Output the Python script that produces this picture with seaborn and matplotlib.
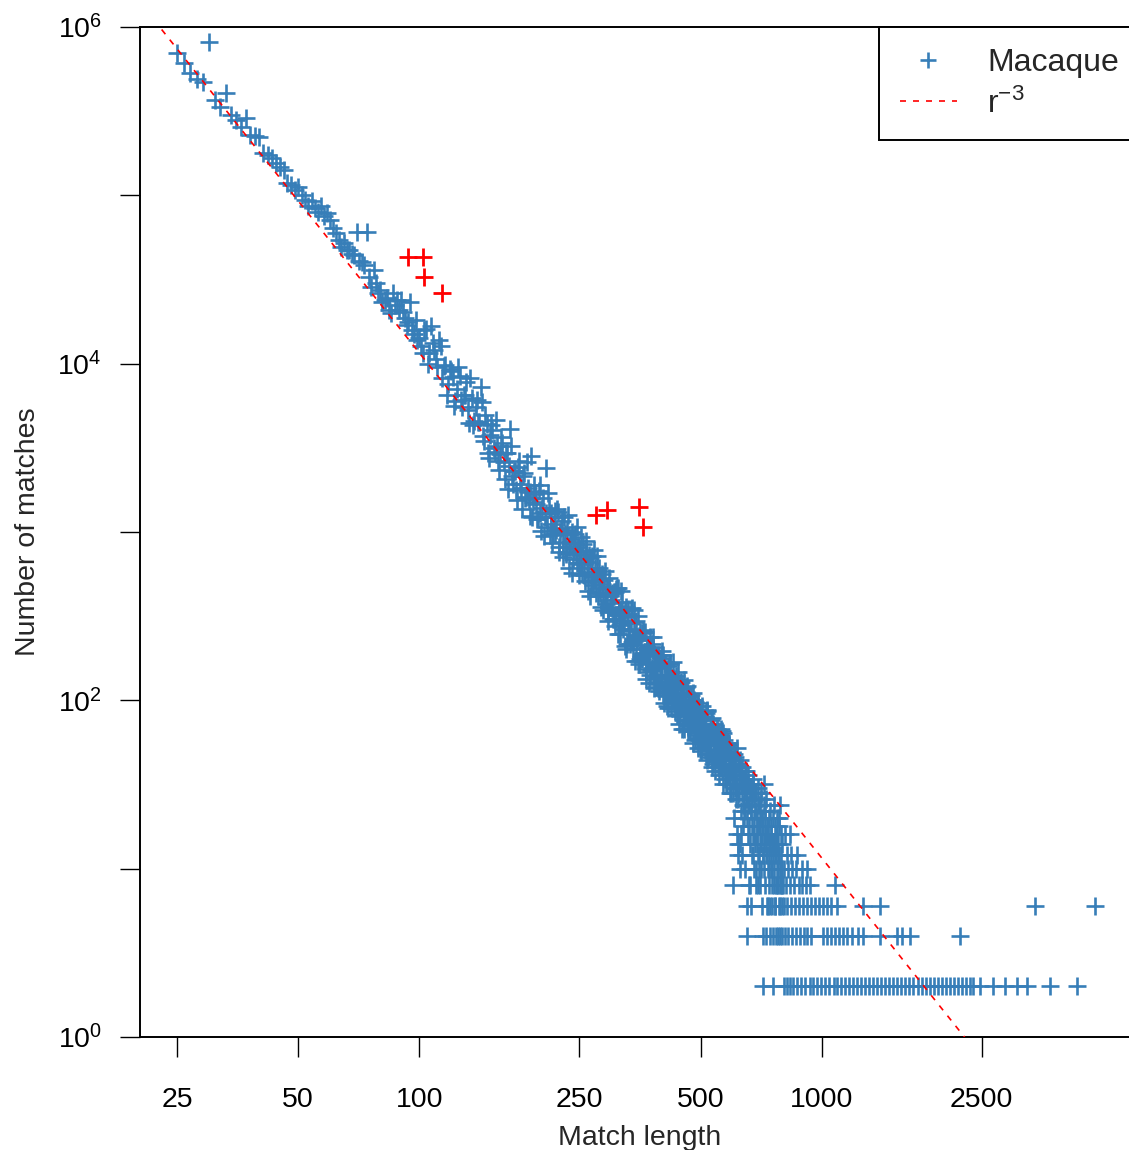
import numpy as np
import pandas as pd
import matplotlib
matplotlib.use("Agg")
import matplotlib.pyplot as plt
from matplotlib.lines import Line2D
from matplotlib.ticker import FixedLocator, NullLocator
import seaborn as sns

sns.set_style("ticks")
plt.rcParams["font.family"] = ["Liberation Sans", "DejaVu Sans"]
plt.rcParams["mathtext.fontset"] = "custom"
plt.rcParams["mathtext.rm"] = "Liberation Sans"
plt.rcParams["mathtext.it"] = "Liberation Sans:italic"
plt.rcParams["mathtext.bf"] = "Liberation Sans:bold"

BLUE = "#377EB8"
RED = "#FF0000"

# --- match-length counts -------------------------------------------------
# lengths 25..99, every length
len_a = list(range(25, 100))
cnt_a = [698000, 608000, 531000, 490000, 473000, 818000, 368000, 336000, 404000, 300000,
         280000, 256000, 287000, 228000, 224000, 223000, 178000, 174000, 166000, 155000,
         147000, 141000, 118000, 115000, 107000, 112000, 100000, 94000, 87000, 93000,
         84000, 80000, 86000, 75000, 78500, 71000, 64000, 59700, 54000, 49500,
         52000, 47300, 47300, 45000, 44000, 60800, 41000, 40000, 38500, 60800,
         32800, 28600, 36000, 30000, 26300, 27400, 23300, 23900, 24500, 20800,
         19900, 26300, 22300, 23900, 20800, 23900, 20300, 18700, 16900, 17700,
         23200, 15800, 15100, 18100, 13800]

# lengths 100..298 (even)
len_b = list(range(100, 300, 2))
cnt_b = [14200, 11600, 16000, 11600, 13300, 10700, 13900, 8200, 9800, 7600,
         9100, 5600, 7100, 8500, 5500, 6500, 5300, 8200, 4300, 5550,
         4500, 7300, 3700, 4980, 2960, 3770, 4050, 2970, 3250, 2320,
         3670, 2600, 2930, 1810, 4100, 2160, 2310, 1770, 2440, 1930,
         1370, 2240, 1620, 1820, 1250, 2840, 1500, 1690, 1200, 1750,
         1300, 1390, 945, 2400, 1070, 1380, 1110, 855, 1220, 970,
         1370, 820, 1000, 1160, 710, 970, 760, 1260, 810, 910,
         570, 795, 975, 650, 820, 657, 936, 564, 690, 510,
         760, 576, 732, 416, 610, 485, 777, 518, 583, 414,
         612, 432, 494, 345, 518, 418, 473, 336, 533, 360]

# lengths 101..299 (odd)
len_b2 = list(range(101, 300, 2))
cnt_b2 = [12800, 15800, 9980, 16800, 12100, 9600, 12800, 9690, 6510, 9240,
          8300, 6000, 9590, 6120, 6500, 7750, 4430, 6240, 4550, 6060,
          4510, 5930, 3480, 4360, 2770, 4340, 3170, 4620, 2640, 2900,
          3380, 2060, 2930, 2450, 3250, 1920, 2310, 1550, 2650, 1830,
          2150, 1590, 2610, 1560, 1740, 1220, 1900, 1460, 1200, 1900,
          1010, 1600, 1220, 1300, 1700, 960, 1290, 970, 1330, 1030,
          1310, 765, 1050, 873, 1230, 736, 1030, 609, 850, 994,
          689, 875, 741, 1070, 559, 767, 648, 846, 552, 884,
          660, 448, 702, 505, 725, 542, 611, 436, 716, 466,
          515, 360, 564, 414, 585, 374, 430, 294, 472, 380]

# lengths 300..597
len_c = list(range(300, 600, 3))
cnt_c = [394, 305, 442, 320, 463, 249, 337, 264, 344, 202,
         350, 257, 287, 202, 342, 212, 228, 165, 256, 177,
         263, 187, 134, 206, 191, 142, 216, 152, 189, 120,
         156, 129, 178, 130, 185, 96, 142, 106, 142, 120,
         166, 90, 117, 96, 134, 98, 122, 72, 126, 94,
         108, 76, 132, 82, 90, 66, 104, 72, 108, 78,
         56, 86, 80, 60, 92, 64, 82, 52, 68, 56,
         80, 58, 84, 44, 66, 48, 66, 56, 78, 42,
         56, 46, 64, 48, 60, 36, 62, 46, 52, 38,
         64, 40, 44, 32, 52, 36, 54, 38, 28, 42]

# lengths 301..598
len_c2 = list(range(301, 600, 3))
cnt_c2 = [355, 438, 276, 462, 343, 282, 385, 295, 209, 318,
          294, 216, 352, 227, 244, 295, 171, 242, 181, 250,
          192, 256, 154, 196, 127, 205, 156, 237, 139, 160,
          187, 114, 163, 138, 185, 110, 135, 92, 161, 113,
          135, 102, 170, 103, 118, 82, 127, 99, 81, 129,
          68, 110, 84, 92, 122, 70, 96, 72, 100, 78,
          100, 58, 80, 68, 96, 58, 82, 50, 70, 80,
          56, 72, 60, 88, 46, 64, 54, 70, 46, 72,
          56, 38, 62, 46, 66, 48, 56, 40, 66, 42,
          48, 34, 54, 40, 56, 36, 42, 28, 46, 38]

# lengths 302..599
len_c3 = list(range(302, 600, 3))
cnt_c3 = [433, 305, 460, 249, 343, 448, 289, 326, 359, 217,
          266, 351, 222, 290, 171, 236, 319, 176, 234, 187,
          253, 148, 202, 168, 237, 151, 208, 118, 164, 184,
          125, 167, 141, 196, 107, 166, 122, 139, 90, 164,
          123, 102, 135, 86, 140, 98, 148, 83, 111, 94,
          118, 68, 98, 120, 76, 88, 66, 98, 74, 110,
          72, 98, 62, 82, 52, 86, 68, 92, 58, 70,
          76, 48, 86, 56, 62, 48, 76, 40, 62, 54,
          46, 66, 48, 68, 40, 54, 40, 68, 48, 32,
          58, 40, 50, 32, 52, 40, 56, 32, 42, 34]

# lengths 600..798 (even)
len_d = list(range(600, 800, 2))
cnt_d = [40, 8, 34, 48, 30, 42, 26, 36, 52, 14,
         12, 38, 28, 44, 10, 32, 16, 40, 24, 34,
         20, 30, 38, 22, 26, 32, 6, 4, 24, 36,
         18, 28, 8, 30, 22, 12, 26, 16, 34, 10,
         20, 14, 28, 8, 22, 18, 16, 30, 12, 24,
         10, 18, 8, 26, 14, 6, 20, 12, 2, 32,
         10, 22, 16, 14, 4, 18, 12, 6, 16, 10,
         20, 8, 14, 4, 12, 18, 6, 10, 14, 2,
         8, 24, 12, 6, 16, 4, 14, 8, 20, 10,
         12, 6, 18, 8, 4, 24, 10, 12, 6, 8]

# lengths 601..799 (odd)
len_d2 = list(range(601, 800, 2))
cnt_d2 = [44, 28, 36, 20, 46, 32, 38, 16, 30, 42,
          26, 34, 14, 40, 22, 36, 12, 28, 32, 18,
          34, 24, 10, 30, 38, 20, 26, 16, 32, 8,
          24, 30, 14, 22, 6, 28, 18, 32, 12, 26,
          16, 22, 10, 28, 14, 20, 8, 24, 18, 12,
          22, 14, 28, 10, 16, 20, 4, 18, 12, 24,
          14, 8, 20, 12, 26, 6, 16, 10, 18, 14,
          12, 22, 6, 16, 10, 14, 8, 20, 12, 4,
          10, 14, 18, 6, 12, 8, 16, 10, 4, 14,
          8, 12, 20, 6, 10, 16, 8, 4, 14, 10]

# long matches, grouped by their (small) count
tail_c2 = [805, 819, 833, 847, 869, 889, 910, 934, 952, 975, 997, 1020, 1044, 1071,
           1093, 1119, 1145, 1171, 1198, 1223, 1255, 1284, 1314, 1344, 1375, 1407,
           1437, 1474, 1508, 1543, 1579, 1615, 1653, 1688, 1731, 1771, 1812, 1854,
           1897, 1946, 1986, 2032, 2080, 2128, 2181, 2228, 2280, 2333, 2378, 2475,
           2666, 2855, 3060, 3238, 3693, 4312]
tail_c4 = [811, 826, 845, 865, 885, 905, 921, 940, 1008, 1032, 1055, 1080, 1105,
           1131, 1158, 1190, 1232, 1267, 1396, 1539, 1583, 1658, 2207]
tail_c6 = [805, 820, 839, 859, 879, 899, 918, 941, 963, 986, 1009, 1034, 1056,
           1092, 1268, 1397, 3390, 4778]
tail_c8 = [801, 817, 836, 856, 876, 896, 916, 936, 1081]
tail_c10 = [808, 827, 846, 866, 893, 919]
tail_c12 = [818, 837, 868]
tail_c16 = [813, 835]

# highlighted lengths
hi_len = [94, 102, 103, 114, 275, 292, 352, 360]
hi_cnt = [42900, 42900, 32600, 26200, 1260, 1350, 1400, 1075]

# reference power law
FIT_C = 1.16e10
FIT_EXP = -3.0

x_ticks = [25, 50, 100, 250, 500, 1000, 2500]
x_tick_labels = ["25", "50", "100", "250", "500", "1000", "2500"]
y_ticks = [1, 10, 100, 1e3, 1e4, 1e5, 1e6]
y_tick_labels = [r"$\mathregular{10^{0}}$", "", r"$\mathregular{10^{2}}$", "",
                 r"$\mathregular{10^{4}}$", "", r"$\mathregular{10^{6}}$"]

# --- assemble -------------------------------------------------------------
tail_rows = [(2, tail_c2), (4, tail_c4), (6, tail_c6), (8, tail_c8),
             (10, tail_c10), (12, tail_c12), (16, tail_c16)]
lengths = len_a + len_b + len_b2 + len_c + len_c2 + len_c3 + len_d + len_d2
counts = cnt_a + cnt_b + cnt_b2 + cnt_c + cnt_c2 + cnt_c3 + cnt_d + cnt_d2
for c, ls in tail_rows:
    lengths += ls
    counts += [c] * len(ls)
blue = pd.DataFrame({"length": lengths, "count": counts})
red = pd.DataFrame({"length": hi_len, "count": hi_cnt})

r_fit = np.geomspace(18, 6500, 300)
fit = pd.DataFrame({"length": r_fit, "count": FIT_C * r_fit ** FIT_EXP})

# --- figure ---------------------------------------------------------------
W, H = 1129, 1150
fig = plt.figure(figsize=(W / 100, H / 100), dpi=100)
ax = fig.add_axes([140 / W, 113 / H, 1000 / W, 1010 / H])
ax.set_xscale("log")
ax.set_yscale("log")

sns.scatterplot(data=blue, x="length", y="count", marker="+", s=150,
                linewidth=1.9, color=BLUE, ax=ax, legend=False, zorder=2)
sns.scatterplot(data=red, x="length", y="count", marker="+", s=150,
                linewidth=2.0, color=RED, ax=ax, legend=False, zorder=3)
sns.lineplot(data=fit, x="length", y="count", color=RED, lw=1.2,
             linestyle=(0, (3.6, 4.2)), ax=ax, legend=False, zorder=4)

ax.set_xlim(20.23, 6183)
ax.set_ylim(1, 1e6)

ax.xaxis.set_major_locator(FixedLocator(x_ticks))
ax.xaxis.set_minor_locator(NullLocator())
ax.set_xticklabels(x_tick_labels)
ax.yaxis.set_major_locator(FixedLocator(y_ticks))
ax.yaxis.set_minor_locator(NullLocator())
ax.set_yticklabels(y_tick_labels)

ax.tick_params(axis="both", direction="out", length=14.4, width=1.0,
               color="black", labelsize=20.5, labelcolor="black")
ax.tick_params(axis="x", pad=21.5)
ax.tick_params(axis="y", pad=13)

for sp in ax.spines.values():
    sp.set_visible(True)
    sp.set_linewidth(1.4)
    sp.set_color("black")

ax.set_xlabel("Match length", fontsize=20.5, labelpad=9)
ax.set_ylabel("Number of matches", fontsize=20.5, labelpad=12)

handles = [Line2D([], [], marker="+", ls="", color=BLUE, ms=12.2, mew=1.9),
           Line2D([], [], color=RED, lw=1.2, ls=(0, (3.6, 4.2)))]
leg = ax.legend(handles=handles,
                labels=["Macaque", r"$\mathregular{r^{-3}}$"],
                loc="upper right", bbox_to_anchor=(1, 1), borderaxespad=0,
                frameon=True, fancybox=False, framealpha=1, edgecolor="black",
                fontsize=23, handlelength=1.8, handletextpad=0.95,
                labelspacing=0.33, borderpad=0.65)
leg.get_frame().set_linewidth(1.4)

fig.savefig("out.png", dpi=100)
